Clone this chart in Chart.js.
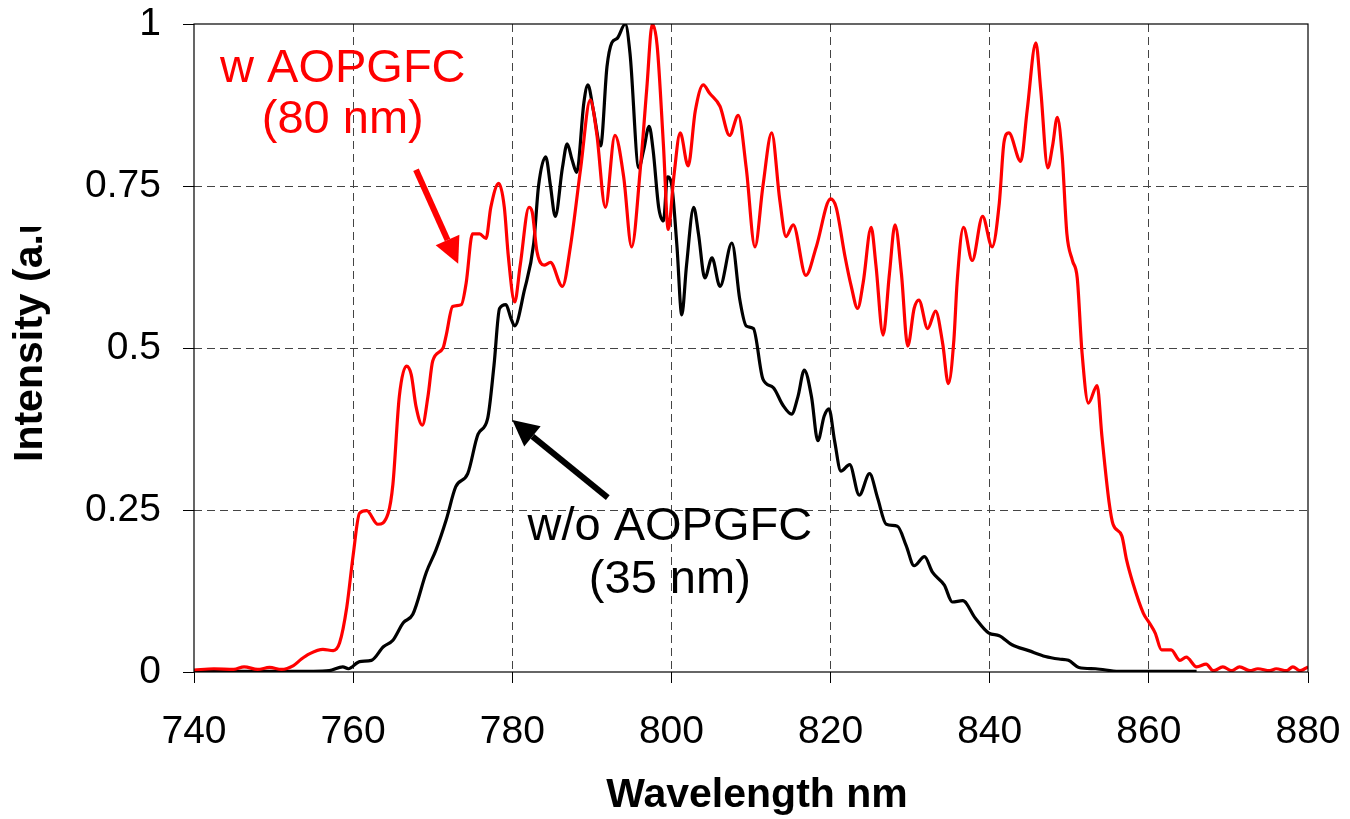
<!DOCTYPE html>
<html>
<head>
<meta charset="utf-8">
<script src="https://cdn.jsdelivr.net/npm/chart.js@4.4.1/dist/chart.umd.min.js"></script>
<style>
  html, body { margin: 0; padding: 0; background: #fff; }
  #wrap { width: 1350px; height: 819px; }
</style>
</head>
<body>
<div id="wrap"><canvas id="spec"></canvas></div>
<script>
// spectrum with AOPGFC (red)
const redWl = [740, 742.5, 745, 746.3, 748, 749.5, 751, 752.5, 753.5, 754.5, 756.2, 757.5, 758.3, 759.2, 760,
  760.8, 761.7, 763.1, 764.4, 765, 765.8, 766.7, 767.3, 767.9, 768.7, 769.4, 770, 771.3, 771.7, 772.5, 773.6,
  774.2, 775, 775.9, 776.7, 777.3, 778.3, 779, 779.5, 780.3, 781, 782.1, 782.5, 783.1, 784, 784.8, 786.3, 787.3,
  788.6, 789.8, 790.6, 791.7, 792.9, 794, 795, 796.1, 796.9, 797.6, 798.2, 799, 799.6, 800.3, 801.1, 802.1, 803,
  804, 804.8, 806.1, 807.3, 808.4, 809.4, 810.5, 811.5, 812.6, 813.6, 814.4, 815.3, 816.9, 818.2, 820, 820.7,
  821.8, 822.6, 823.4, 824.1, 825.1, 825.7, 826.6, 827.4, 828.1, 828.9, 829.7, 830.5, 831.1, 832.2, 833.2, 834.1,
  834.8, 835.5, 835.9, 836.7, 837.8, 839.1, 840.3, 841.2, 841.8, 842.4, 843.9, 844.7, 845.8, 846.4, 847.3, 847.9,
  848.5, 849.1, 849.7, 850.4, 851, 851.6, 852.4, 853.5, 854.1, 855, 855.5, 856.6, 857.2, 858, 859.3, 860.1, 860.8,
  861.6, 862.8, 863.9, 864.7, 866, 867.2, 868.1, 869.3, 870.4, 871.4, 872.7, 873.7, 875.2, 876, 877.3, 878.1, 879, 880];
const redI = [0.003, 0.005, 0.004, 0.008, 0.004, 0.007, 0.004, 0.01, 0.02, 0.028, 0.035, 0.033, 0.045, 0.10, 0.18,
  0.245, 0.249, 0.228, 0.245, 0.29, 0.425, 0.472, 0.459, 0.41, 0.381, 0.425, 0.48, 0.50, 0.52, 0.564, 0.567,
  0.60, 0.676, 0.676, 0.669, 0.717, 0.754, 0.717, 0.642, 0.571, 0.628, 0.717, 0.71, 0.649, 0.628, 0.632, 0.595, 0.656,
  0.778, 0.883, 0.832, 0.717, 0.828, 0.764, 0.656, 0.778, 0.9, 1.0, 0.967, 0.812, 0.683, 0.764, 0.832, 0.781, 0.866,
  0.906, 0.893, 0.873, 0.828, 0.859, 0.778, 0.656, 0.75, 0.832, 0.73, 0.672, 0.69, 0.612, 0.656, 0.73, 0.717,
  0.642, 0.595, 0.561, 0.601, 0.686, 0.628, 0.52, 0.615, 0.69, 0.615, 0.503, 0.561, 0.574, 0.53, 0.557, 0.506,
  0.445, 0.513, 0.601, 0.686, 0.635, 0.703, 0.656, 0.723, 0.818, 0.832, 0.788, 0.866, 0.971, 0.9, 0.778, 0.812,
  0.856, 0.798, 0.676, 0.635, 0.608, 0.493, 0.415, 0.442, 0.364, 0.262, 0.228, 0.21, 0.173, 0.137, 0.091, 0.075, 0.06,
  0.034, 0.034, 0.018, 0.023, 0.008, 0.012, 0.002, 0.008, 0.002, 0.008, 0.002, 0.005, 0.002, 0.005, 0.002, 0.008, 0.002, 0.008];

// spectrum without AOPGFC (black)
const blackWl = [740, 755, 757, 758.7, 759.4, 760.8, 762.3, 763.8, 765, 766.3, 767.5, 769.2, 770.4, 771.7, 772.9,
  774.4, 775.7, 776.9, 777.7, 778.4, 779.2, 779.8, 780.3, 781.5, 782.7, 783.3, 784.2, 784.8, 785.4, 786.3, 786.9,
  787.5, 788.1, 789, 789.5, 790.2, 791.1, 791.9, 792.5, 793.2, 794.2, 794.8, 795.9, 796.5, 797.2, 797.7, 798.4,
  799, 799.5, 800, 800.7, 801.3, 801.9, 802.8, 803.4, 804.2, 805.1, 806.1, 807.6, 808.6, 809.4, 810.3, 811.5,
  812.8, 814, 815.1, 815.9, 816.7, 817.6, 818.4, 819.2, 819.8, 820.5, 821.3, 822.4, 823.6, 824.9, 825.9, 827,
  828.4, 829.5, 830.5, 831.8, 832.8, 834.3, 835.3, 836.6, 838.2, 839.9, 841.2, 842.8, 844.9, 847, 848.7, 849.9,
  851.2, 853.3, 856.2, 860, 866];
const blackI = [0.001, 0.001, 0.002, 0.008, 0.005, 0.016, 0.018, 0.039, 0.049, 0.076, 0.089, 0.154, 0.188, 0.235, 0.286,
  0.306, 0.367, 0.391, 0.473, 0.561, 0.567, 0.547, 0.534, 0.588, 0.662, 0.75, 0.795, 0.75, 0.703, 0.778, 0.815,
  0.791, 0.771, 0.879, 0.906, 0.866, 0.812, 0.934, 0.971, 0.978, 1.0, 0.954, 0.778, 0.805, 0.842, 0.805, 0.717,
  0.696, 0.764, 0.754, 0.656, 0.551, 0.628, 0.717, 0.676, 0.608, 0.639, 0.595, 0.662, 0.574, 0.534, 0.53, 0.452,
  0.439, 0.412, 0.398, 0.425, 0.466, 0.425, 0.357, 0.395, 0.406, 0.357, 0.31, 0.32, 0.273, 0.306, 0.269, 0.228,
  0.225, 0.195, 0.164, 0.178, 0.154, 0.134, 0.108, 0.11, 0.083, 0.06, 0.056, 0.042, 0.033, 0.024, 0.02, 0.018,
  0.007, 0.005, 0.001, 0.001, 0.001];

const xMin = 740, xMax = 880, xStep = 20;
const yMin = 0, yMax = 1, yStep = 0.25;

// annotation text and arrows, positioned in data units
const notes = [
  { lines: ['w AOPGFC', '(80 nm)'], color: '#ff0000', x: 758.7, y: [0.910, 0.832] },
  { lines: ['w/o AOPGFC', '(35 nm)'], color: '#000000', x: 799.8, y: [0.204, 0.122] }
];
const arrows = [
  { from: [767.9, 0.775], to: [773.2, 0.630], color: '#ff0000' },
  { from: [792.0, 0.269], to: [780.0, 0.389], color: '#000000' }
];

const FONT = '"Liberation Sans", Arial, sans-serif';
const pts = (xs, ys) => xs.map((x, i) => ({ x, y: ys[i] }));
const edgeHidden = (lo, hi, col) => ctx => {
  const v = ctx.tick ? ctx.tick.value : null;
  return (v === lo || v === hi) ? 'rgba(0,0,0,0)' : col;
};

function drawArrow(ctx, x1, y1, x2, y2, color) {
  const ang = Math.atan2(y2 - y1, x2 - x1);
  const hl = 26, hw = 13;
  const bx = x2 - hl * Math.cos(ang), by = y2 - hl * Math.sin(ang);
  ctx.save();
  ctx.strokeStyle = color; ctx.fillStyle = color;
  ctx.lineWidth = 6; ctx.lineCap = 'butt';
  ctx.beginPath(); ctx.moveTo(x1, y1); ctx.lineTo(bx, by); ctx.stroke();
  ctx.beginPath();
  ctx.moveTo(x2, y2);
  ctx.lineTo(bx + hw * Math.sin(ang), by - hw * Math.cos(ang));
  ctx.lineTo(bx - hw * Math.sin(ang), by + hw * Math.cos(ang));
  ctx.closePath(); ctx.fill();
  ctx.restore();
}

const decorations = {
  id: 'decorations',
  afterDatasetsDraw(chart) {
    const { ctx, chartArea: a, scales: { x, y } } = chart;
    // frame
    ctx.save();
    ctx.strokeStyle = '#000'; ctx.lineWidth = 1.2;
    ctx.strokeRect(a.left, a.top, a.right - a.left, a.bottom - a.top);
    ctx.restore();

    // callouts
    ctx.save();
    ctx.font = '47px ' + FONT;
    ctx.textAlign = 'center'; ctx.textBaseline = 'alphabetic';
    notes.forEach(n => {
      ctx.fillStyle = n.color;
      n.lines.forEach((t, i) => ctx.fillText(t, x.getPixelForValue(n.x), y.getPixelForValue(n.y[i])));
    });
    ctx.restore();
    arrows.forEach(ar => drawArrow(ctx,
      x.getPixelForValue(ar.from[0]), y.getPixelForValue(ar.from[1]),
      x.getPixelForValue(ar.to[0]), y.getPixelForValue(ar.to[1]), ar.color));

    // axis titles (the y title is cut off at the top, as in the original)
    ctx.save();
    ctx.fillStyle = '#000';
    ctx.font = 'bold 41px ' + FONT;
    ctx.textAlign = 'center'; ctx.textBaseline = 'alphabetic';
    ctx.fillText('Wavelength nm', 757, 807);
    ctx.beginPath(); ctx.rect(0, 227, 90, 600); ctx.clip();
    ctx.translate(42, 462);
    ctx.rotate(-Math.PI / 2);
    ctx.textAlign = 'left';
    ctx.fillText('Intensity (a.u.)', 0, 0);
    ctx.restore();
  }
};

// drop the label overflow padding so the plot box sits where the layout padding says
const noOverflow = s => { s.paddingTop = 0; s.paddingBottom = 0; s.paddingLeft = 0; s.paddingRight = 0; };

new Chart(document.getElementById('spec'), {
  type: 'line',
  data: {
    datasets: [
      { label: 'w AOPGFC', data: pts(redWl, redI), borderColor: '#ff0000', borderWidth: 3.2,
        pointRadius: 0, cubicInterpolationMode: 'monotone', borderJoinStyle: 'round', fill: false, order: 0 },
      { label: 'w/o AOPGFC', data: pts(blackWl, blackI), borderColor: '#000000', borderWidth: 3.2,
        pointRadius: 0, cubicInterpolationMode: 'monotone', borderJoinStyle: 'round', fill: false, order: 1 }
    ]
  },
  options: {
    responsive: true, maintainAspectRatio: false, animation: false,
    layout: { padding: { left: 0, top: 24, right: 42, bottom: 0 } },
    plugins: { legend: { display: false }, tooltip: { enabled: false } },
    scales: {
      x: {
        type: 'linear', min: xMin, max: xMax,
        afterFit: s => { s.height = 147; noOverflow(s); },
        ticks: { stepSize: xStep, color: '#000', padding: 26, maxRotation: 0,
                 font: { family: FONT, size: 39 } },
        grid: { color: edgeHidden(xMin, xMax, '#444'), lineWidth: 1, tickLength: 11,
                tickColor: '#000', tickWidth: 1 },
        border: { display: false, dash: [8, 5] }
      },
      y: {
        type: 'linear', min: yMin, max: yMax,
        afterFit: s => { s.width = 194; noOverflow(s); },
        ticks: { stepSize: yStep, color: '#000', padding: 22,
                 font: { family: FONT, size: 39 }, callback: v => String(v) },
        grid: { color: edgeHidden(yMin, yMax, '#444'), lineWidth: 1, tickLength: 11,
                tickColor: '#000', tickWidth: 1 },
        border: { display: false, dash: [8, 5] }
      }
    }
  },
  plugins: [decorations]
});
</script>
</body>
</html>
